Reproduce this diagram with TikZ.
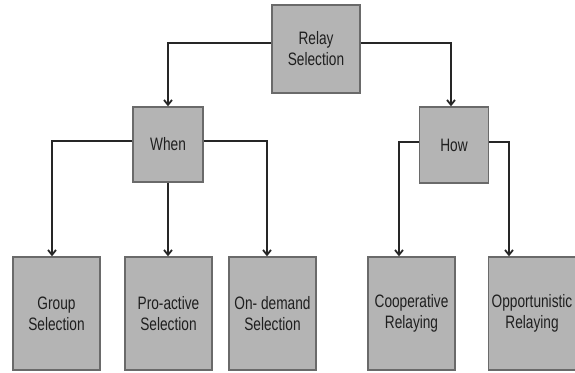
\documentclass[tikz,border=0pt]{standalone}
\usepackage{fontspec}
\setmainfont{Liberation Sans}[FakeStretch=0.76]
\usepackage{tikz}
\usetikzlibrary{arrows.meta, positioning}
\definecolor{boxfill}{HTML}{B4B4B4}
\definecolor{boxedge}{HTML}{6A6A6A}
\definecolor{linkcol}{HTML}{262626}

\begin{document}
\begin{tikzpicture}[x=1pt, y=-1pt, >={Straight Barb[length=5pt,width=8pt]},
        block/.style={rectangle, draw=boxedge, line width=1.3pt, fill=boxfill, text centered, align=center, font=\fontsize{18}{21}\selectfont, text=black!88},
        leaf/.style={block, minimum width=87pt, minimum height=113pt},
        link/.style={draw=linkcol, line width=1.8pt}]

        \useasboundingbox (0,0) rectangle (575,372);

        \node (relay) [block, minimum width=88pt, minimum height=88pt] at (316,49) {Relay\\Selection};
        \node (when) [block, minimum width=70pt, minimum height=75pt] at (168,144.5) {When};
        \node (how) [block, minimum width=69pt, minimum height=76pt] at (454,145) {How};

        \node (group) [leaf] at (56.5,313.5) {Group\\Selection};
        \node (proactive) [leaf] at (168.5,313.5) {Pro-active\\Selection};
        \node (ondemand) [leaf] at (272.5,313.5) {On- demand\\Selection};
        \node (coop) [leaf] at (411.5,313.5) {Cooperative\\Relaying};
        \node (opport) [leaf] at (532,313.5) {Opportunistic\\Relaying};

        % Top level
        \draw [link, ->] ([yshift=6pt]relay.west) -| (when.north);
        \draw [link, ->] ([yshift=6pt]relay.east) -| ([xshift=-3pt]how.north);

        % When branch
        \draw [link, ->] ([yshift=3.5pt]when.west) -| ([xshift=-4.5pt]group.north);
        \draw [link, ->] (when.south) -- (proactive.north -| when.south);
        \draw [link, ->] ([yshift=3.5pt]when.east) -| ([xshift=-5.5pt]ondemand.north);

        % How branch
        \draw [link, ->] ([yshift=3pt]how.west) -| ([xshift=-12.5pt]coop.north);
        \draw [link, ->] ([yshift=3pt]how.east) -| ([xshift=-23pt]opport.north);

    \end{tikzpicture}
\end{document}
